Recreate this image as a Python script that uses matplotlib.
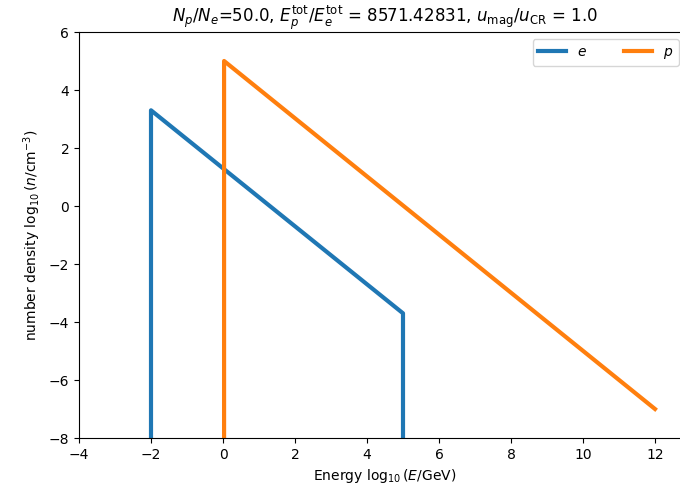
import matplotlib
matplotlib.use('Agg')
import matplotlib.pyplot as plt

# spectra (log10 E in GeV, log10 n in cm^-3)
e_logE = [-2.0, -2.0, 5.0, 5.0]
e_logn = [-8.0, 3.3, -3.7, -8.0]
p_logE = [0.03, 0.03, 12.0]
p_logn = [-8.0, 5.0, -7.0]


def plot_spectra():
    fig = plt.figure(figsize=(6.8, 4.95), dpi=100)
    ax = fig.add_axes([79 / 680, 57 / 495, 612 / 680, 406 / 495])

    ax.plot(e_logE, e_logn, lw=3, color='tab:blue', label='$e$')
    ax.plot(p_logE, p_logn, lw=3, color='tab:orange', label='$p$')

    ax.set_xlim(-4, 13)
    ax.set_ylim(-8, 6)
    ax.set_xticks(range(-4, 13, 2))
    ax.spines['right'].set_visible(False)
    ax.set_xlabel(r'Energy $\log_{10}(E/\mathrm{GeV})$')
    ax.set_ylabel(r'number density $\log_{10}(n/\mathrm{cm}^{-3})$')
    ax.set_title(r'$N_p/N_e$=50.0, $E_p^{\mathrm{tot}}/E_e^{\mathrm{tot}}$ = 8571.42831, '
                 r'$u_{\mathrm{mag}}/u_{\mathrm{CR}}$ = 1.0')
    ax.legend(ncol=2, loc='upper right', columnspacing=2.7,
              bbox_to_anchor=(607 / 612, 1.0))

    fig.savefig('out.png', dpi=100)


if __name__ == "__main__":
    plot_spectra()
